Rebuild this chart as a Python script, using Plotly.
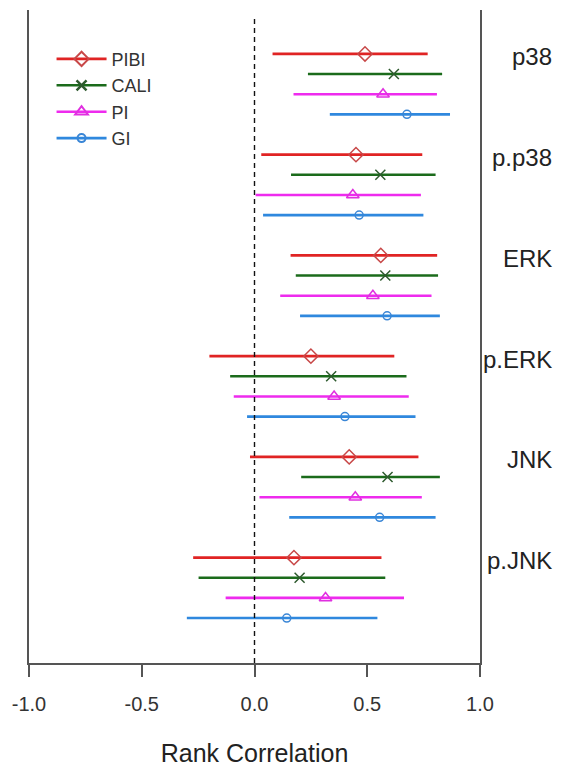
import plotly.graph_objects as go

categories = ["p38", "p.p38", "ERK", "p.ERK", "JNK", "p.JNK"]
series_names = ["PIBI", "CALI", "PI", "GI"]

PIBI_est = [0.49, 0.45, 0.56, 0.25, 0.42, 0.175]
PIBI_lo = [0.08, 0.03, 0.16, -0.20, -0.02, -0.272]
PIBI_hi = [0.768, 0.744, 0.81, 0.62, 0.727, 0.563]

CALI_est = [0.618, 0.558, 0.58, 0.34, 0.59, 0.20]
CALI_lo = [0.237, 0.162, 0.183, -0.108, 0.207, -0.248]
CALI_hi = [0.832, 0.803, 0.814, 0.674, 0.822, 0.58]

PI_est = [0.57, 0.436, 0.525, 0.353, 0.447, 0.315]
PI_lo = [0.173, 0.005, 0.114, -0.092, 0.022, -0.128]
PI_hi = [0.809, 0.738, 0.785, 0.684, 0.742, 0.663]

GI_est = [0.676, 0.464, 0.588, 0.401, 0.555, 0.143]
GI_lo = [0.334, 0.038, 0.202, -0.033, 0.154, -0.30]
GI_hi = [0.867, 0.749, 0.822, 0.714, 0.803, 0.545]

x_ticks = [-1.0, -0.5, 0.0, 0.5, 1.0]
x_ticklabels = ["-1.0", "-0.5", "0.0", "0.5", "1.0"]

est = [PIBI_est, CALI_est, PI_est, GI_est]
lo = [PIBI_lo, CALI_lo, PI_lo, GI_lo]
hi = [PIBI_hi, CALI_hi, PI_hi, GI_hi]

colors = ["#E02424", "#1B6B1B", "#EE2BEE", "#2F88DE"]
mcolors = ["#C84848", "#2E5A2E", "#E030E0", "#3A86D6"]
symbols = ["diamond-open", "x-thin-open", "triangle-up-open", "circle-open"]
msizes = [11, 10, 11, 8]

GROUP_STEP = 5
FONT = "Liberation Sans, Arial, sans-serif"

fig = go.Figure()

for s, name in enumerate(series_names):
    ypos = [g * GROUP_STEP + s for g in range(len(categories))]
    plus = [h - e for h, e in zip(hi[s], est[s])]
    minus = [e - l for e, l in zip(est[s], lo[s])]
    fig.add_trace(go.Scatter(
        x=est[s], y=ypos, mode="markers", showlegend=False,
        marker=dict(symbol=symbols[s], size=msizes[s], color=mcolors[s],
                    line=dict(width=1.5, color=mcolors[s])),
        error_x=dict(type="data", symmetric=False, array=plus, arrayminus=minus,
                     color=colors[s], thickness=2.6, width=0),
        name=name,
    ))

for s, name in enumerate(series_names):
    fig.add_trace(go.Scatter(
        x=[None], y=[None], mode="lines+markers", name=name,
        line=dict(color=colors[s], width=2.6),
        marker=dict(symbol=symbols[s], size=msizes[s], color=mcolors[s],
                    line=dict(width=2.5 if s == 1 else 2, color=colors[s])),
    ))

for g, cat in enumerate(categories):
    fig.add_annotation(
        x=1.165, xref="paper", y=g * GROUP_STEP, yref="y",
        text=cat, showarrow=False, xanchor="right", yanchor="middle", yshift=-3,
        font=dict(family=FONT, size=24, color="#222222"),
    )

fig.add_shape(type="line", xref="x", yref="paper", x0=0, x1=0, y0=0, y1=0.992,
              line=dict(color="#111111", width=1.4, dash="5px,4px"), layer="above")

# page body has an 8px default margin: the figure is sized/offset to compensate
fig.update_layout(
    width=553, height=761,
    margin=dict(l=21, r=81, t=2, b=106),
    paper_bgcolor="white", plot_bgcolor="white",
    font=dict(family=FONT, color="#333333"),
    xaxis=dict(
        range=[-1, 1], tickvals=x_ticks, ticktext=x_ticklabels,
        showgrid=False, zeroline=False, showline=True, linecolor="#555555", linewidth=2,
        ticks="outside", ticklen=12, tickwidth=2, tickcolor="#555555",
        tickfont=dict(size=20, color="#333333", family=FONT),
        ticklabelstandoff=10,
        title=dict(text="Rank Correlation", font=dict(size=25, color="#222222", family=FONT),
                   standoff=30),
    ),
    yaxis=dict(
        range=[30.23, -2.18], showgrid=False, zeroline=False,
        showline=True, mirror=True, linecolor="#555555", linewidth=2,
        showticklabels=False, ticks="",
    ),
    legend=dict(
        x=0.05, y=0.953, xanchor="left", yanchor="top",
        font=dict(size=18, color="#333333", family=FONT),
        bgcolor="rgba(0,0,0,0)", borderwidth=0, tracegroupgap=0,
        itemwidth=50,
    ),
)

fig.write_html("out.html")
